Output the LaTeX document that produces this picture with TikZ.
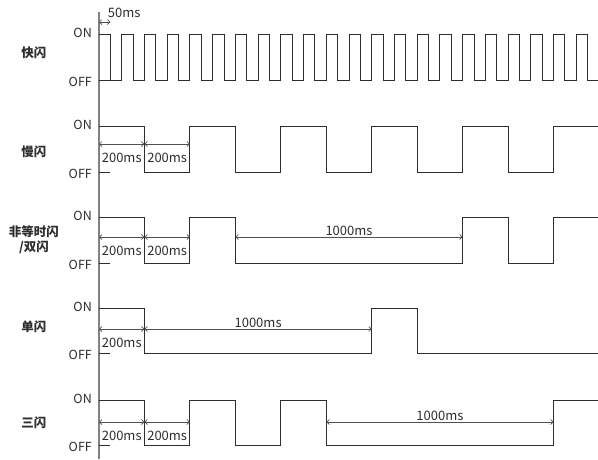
\documentclass[tikz,border=0pt]{standalone}
\usepackage{fontspec}
\setmainfont{Noto Sans CJK SC}
\usepackage{tikz}
\usetikzlibrary{arrows.meta,positioning}
\definecolor{waveline}{RGB}{45,45,45}
\definecolor{axisgray}{RGB}{130,130,130}
\definecolor{dimgray}{RGB}{80,80,80}

\begin{document}
\begin{tikzpicture}[
    x=45.4545pt, y=-1pt,
    wave/.style={line width=0.9pt, draw=waveline},
    axisline/.style={line width=1.4pt, draw=axisgray},
    dim/.style={{Straight Barb[length=2.5pt,width=5pt]}-{Straight Barb[length=2.5pt,width=5pt]},
                line width=0.7pt, draw=dimgray},
    lvl/.style={font=\fontsize{12.5}{14}\selectfont, anchor=east, inner sep=2pt, text=waveline},
    sig/.style={font=\fontsize{12.5}{15}\selectfont\bfseries, align=center, text=waveline},
    val/.style={font=\fontsize{13}{15}\selectfont, inner sep=1pt, text=waveline}
]
\useasboundingbox (-2.178,0) rectangle (10.978,459);

% time axis
\draw[axisline] (0,12) -- (0,459);

% ON / OFF levels
\foreach \on/\off [count=\i] in {34/80,126/172,217/263,308/353,400/445} {
  \node[lvl] (on\i) at (-0.11,\on-1) {ON};
  \node[lvl] (off\i) at (-0.11,\off+2) {OFF};
  \draw[wave] (0,\off) -- (0.25,\off);
}

% signal names
\node[sig] (fast) at (-1.43,53) {快闪};
\node[sig] (slow) at (-1.43,152) {慢闪};
\node[sig] (uneven) at (-1.43,240) {非等时闪\\/双闪};
\node[sig] (single) at (-1.43,327) {单闪};
\node[sig] (triple) at (-1.43,423) {三闪};

% waveforms
\draw[wave] (0,34) \foreach \i in {0,...,21} { -| (\i*0.5+0.25,80) -| (\i*0.5+0.5,34) };
\draw[wave] (0,126) -| (1,172) -| (2,126) -| (3,172) -| (4,126) -| (5,172)
    -| (6,126) -| (7,172) -| (8,126) -| (9,172) -| (10,126) -- (10.978,126);
\draw[wave] (0,217) -| (1,263) -| (2,217) -| (3,263) -| (8,217) -| (9,263)
    -| (10,217) -- (10.978,217);
\draw[wave] (0,308) -| (1,353) -| (6,308) -| (7,353) -- (10.978,353);
\draw[wave] (0,400) -| (1,445) -| (2,400) -| (3,445) -| (4,400) -| (5,445)
    -| (10,400) -- (10.978,400);

% dimension marks
\foreach \r/\yy in {a/144,b/237,c/329,d/422}
  \foreach \k in {0,...,10}
    \coordinate (\r\k) at (\k,\yy);
\coordinate (f0) at (0,22);
\coordinate (f1) at (0.25,22);

\draw[dim] (f0) -- (f1);
\node[val, anchor=south west] (t50) at (0.17,19) {50ms};

\draw[dim] (a0) -- node[val, below=8pt] {200ms} (a1);
\draw[dim] (a1) -- node[val, below=8pt] {200ms} (a2);
\draw[dim] (b0) -- node[val, below=8pt] {200ms} (b1);
\draw[dim] (b1) -- node[val, below=8pt] {200ms} (b2);
\draw[dim] (b3) -- node[val, above=0pt] {1000ms} (b8);
\draw[dim] (c0) -- node[val, below=8pt] {200ms} (c1);
\draw[dim] (c1) -- node[val, above=0pt] {1000ms} (c6);
\draw[dim] (d0) -- node[val, below=8pt] {200ms} (d1);
\draw[dim] (d1) -- node[val, below=8pt] {200ms} (d2);
\draw[dim] (d5) -- node[val, above=0pt] {1000ms} (d10);
\end{tikzpicture}
\end{document}
